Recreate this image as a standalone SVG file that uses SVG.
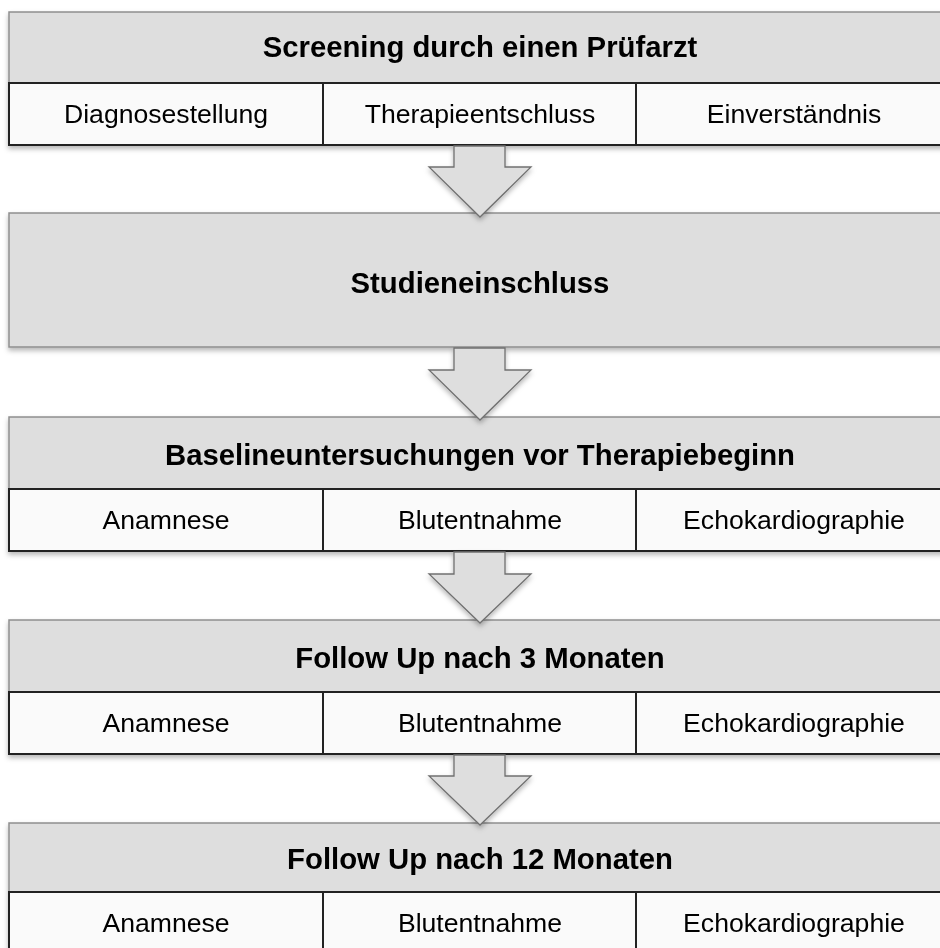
<svg xmlns="http://www.w3.org/2000/svg" width="940" height="948" viewBox="0 0 940 948">
<defs>
<filter id="sh" x="-5%" y="-10%" width="110%" height="130%">
<feDropShadow dx="0" dy="3" stdDeviation="2.5" flood-color="#000" flood-opacity="0.28"/>
</filter>
</defs>
<style>
.hd{fill:#dedede;stroke:#8e8e8e;stroke-width:1.5}
.row{fill:#fafafa;stroke:#222;stroke-width:2}
.div{stroke:#222;stroke-width:2}
.arr{fill:#dedede;stroke:#707070;stroke-width:1.3;stroke-linejoin:miter}
.t{font-family:"Liberation Sans",Arial,sans-serif;fill:#000;text-anchor:middle}
.b{font-size:29.3px;font-weight:bold}
.n{font-size:26.6px}
</style>
<rect width="940" height="948" fill="#fff"/>

<g id="screening" filter="url(#sh)">
<rect class="hd" x="9" y="12" width="942" height="71"/>
<rect class="row" x="9" y="83" width="942" height="62"/>
<line class="div" x1="323" y1="83" x2="323" y2="145"/>
<line class="div" x1="636" y1="83" x2="636" y2="145"/>
<text class="t b" x="480" y="57">Screening durch einen Prüfarzt</text>
<text class="t n" x="166" y="123">Diagnosestellung</text>
<text class="t n" x="480" y="123">Therapieentschluss</text>
<text class="t n" x="794" y="123">Einverständnis</text>
</g>

<g id="studieneinschluss" filter="url(#sh)">
<rect class="hd" x="9" y="213" width="942" height="134"/>
<text class="t b" x="480" y="293">Studieneinschluss</text>
</g>

<g id="baseline" filter="url(#sh)">
<rect class="hd" x="9" y="417" width="942" height="72"/>
<rect class="row" x="9" y="489" width="942" height="62"/>
<line class="div" x1="323" y1="489" x2="323" y2="551"/>
<line class="div" x1="636" y1="489" x2="636" y2="551"/>
<text class="t b" x="480" y="465">Baselineuntersuchungen vor Therapiebeginn</text>
<text class="t n" x="166" y="529">Anamnese</text>
<text class="t n" x="480" y="529">Blutentnahme</text>
<text class="t n" x="794" y="529">Echokardiographie</text>
</g>

<g id="followup3" filter="url(#sh)">
<rect class="hd" x="9" y="620" width="942" height="72"/>
<rect class="row" x="9" y="692" width="942" height="62"/>
<line class="div" x1="323" y1="692" x2="323" y2="754"/>
<line class="div" x1="636" y1="692" x2="636" y2="754"/>
<text class="t b" x="480" y="668">Follow Up nach 3 Monaten</text>
<text class="t n" x="166" y="732">Anamnese</text>
<text class="t n" x="480" y="732">Blutentnahme</text>
<text class="t n" x="794" y="732">Echokardiographie</text>
</g>

<g id="followup12" filter="url(#sh)">
<rect class="hd" x="9" y="823" width="942" height="69"/>
<rect class="row" x="9" y="892" width="942" height="62"/>
<line class="div" x1="323" y1="892" x2="323" y2="954"/>
<line class="div" x1="636" y1="892" x2="636" y2="954"/>
<text class="t b" x="480" y="869">Follow Up nach 12 Monaten</text>
<text class="t n" x="166" y="932">Anamnese</text>
<text class="t n" x="480" y="932">Blutentnahme</text>
<text class="t n" x="794" y="932">Echokardiographie</text>
</g>

<g id="connectors" filter="url(#sh)">
<path class="arr" d="M454,146 L505,146 L505,167 L531,167 L480,217 L429,167 L454,167 Z"/>
<path class="arr" d="M454,348 L505,348 L505,370 L531,370 L480,420 L429,370 L454,370 Z"/>
<path class="arr" d="M454,552 L505,552 L505,574 L531,574 L480,623 L429,574 L454,574 Z"/>
<path class="arr" d="M454,755 L505,755 L505,776 L531,776 L480,825 L429,776 L454,776 Z"/>
</g>
</svg>
